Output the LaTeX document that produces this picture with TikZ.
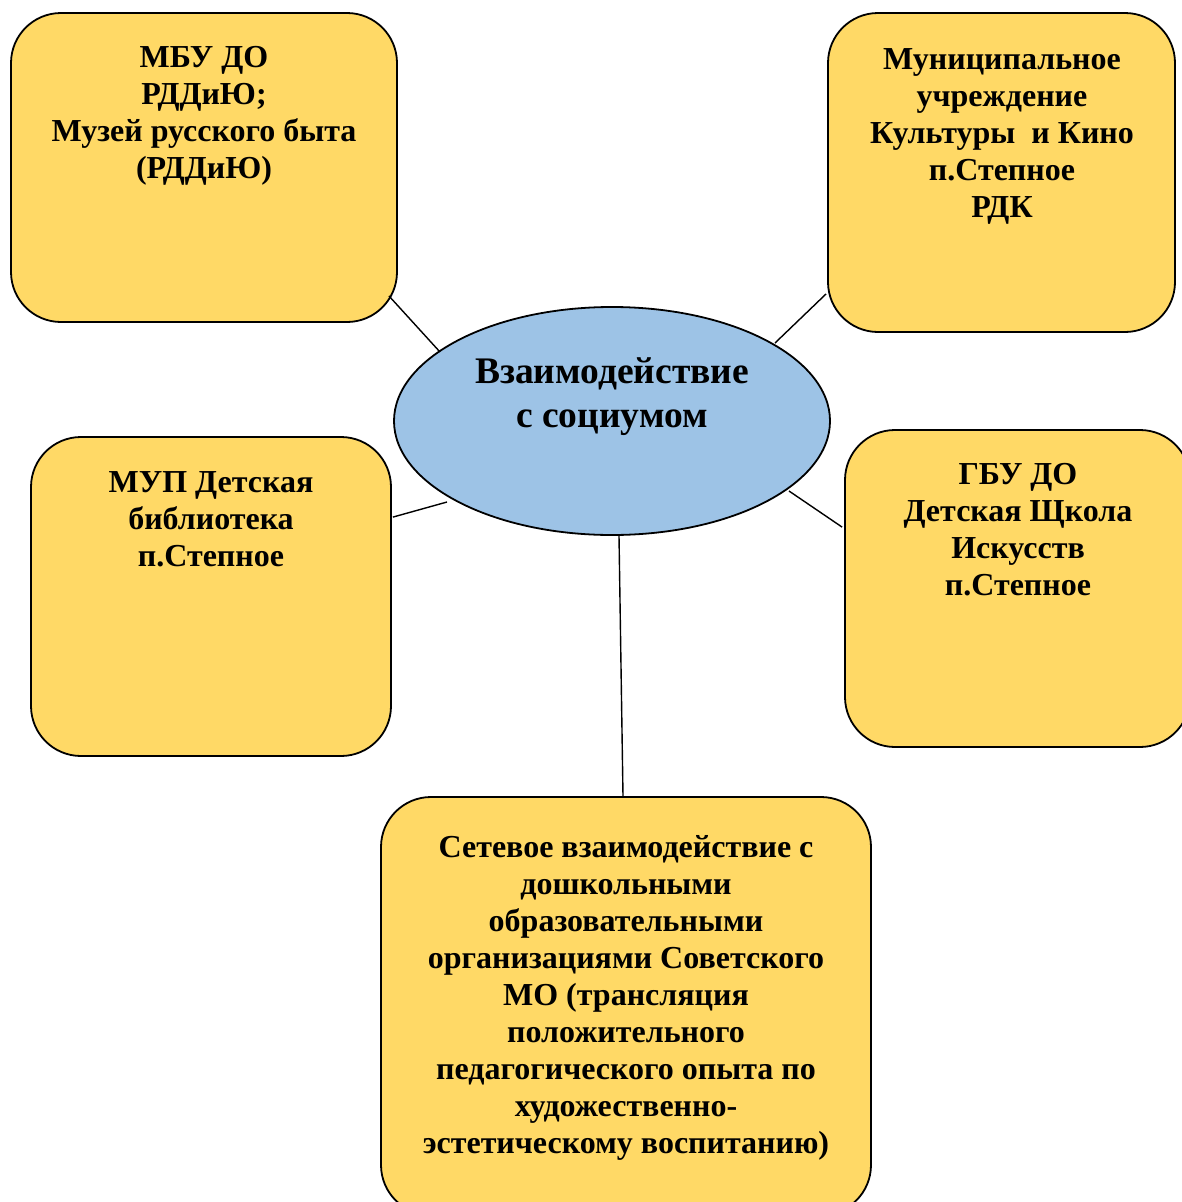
\documentclass[tikz,border=0pt]{standalone}
\usepackage{fontspec}
\setmainfont{Liberation Serif}
\usetikzlibrary{shapes.geometric,calc}
\definecolor{boxfill}{HTML}{FFD966}
\definecolor{ellfill}{HTML}{9DC3E6}
\tikzset{
  rbox/.style={draw=black, line width=1.8pt, fill=boxfill, rounded corners=50pt, inner sep=0pt},
  btext/.style={anchor=north, align=center, inner sep=0pt, font=\fontsize{32}{37}\selectfont\bfseries},
  etext/.style={anchor=north, align=center, inner sep=0pt, font=\fontsize{37.5}{44}\selectfont\bfseries},
  link/.style={draw=black, line width=1.4pt}
}
\begin{document}
\begin{tikzpicture}[x=1pt,y=-1pt]
\useasboundingbox (0,0) rectangle (1182,1202);
\clip (0,0) rectangle (1182,1202);
\fill[white] (0,0) rectangle (1182,1202);
% boxes
\node[rbox, minimum width=386pt, minimum height=309pt] (b1) at (204,167.5) {};
\node[rbox, minimum width=347pt, minimum height=319pt] (b2) at (1001.5,172.5) {};
\node[rbox, minimum width=360pt, minimum height=319pt] (b3) at (211,596.5) {};
\node[rbox, minimum width=345pt, minimum height=317pt] (b4) at (1017.5,588.5) {};
\node[rbox, minimum width=490pt, minimum height=418pt] (b5) at (626,1006) {};
% ellipse
\node[ellipse, draw=black, line width=1.8pt, fill=ellfill, minimum width=436pt, minimum height=228pt, inner sep=0pt] (ell) at (612,421) {};
% texts
\node[btext] (t1) at (204,46) {МБУ ДО\\РДДиЮ;\\Музей русского быта\\(РДДиЮ)};
\node[btext] (t2) at (1002,48) {Муниципальное\\учреждение\\Культуры\ \ и Кино\\п.Степное\\РДК};
\node[btext] (t3) at (211,471) {МУП Детская\\библиотека\\п.Степное};
\node[btext] (t4) at (1018,463) {ГБУ ДО\\Детская Щкола\\Искусств\\п.Степное};
\node[btext] (t5) at (626,835) {Сетевое взаимодействие с\\дошкольными\\образовательными\\организациями Советского\\МО (трансляция\\положительного\\педагогического опыта по\\художественно-\\эстетическому воспитанию)};
\node[etext] (te) at (612,357) {Взаимодействие\\с социумом};
% connectors
\draw[link] ($(b1.south east)+(-9,-27)$) -- ($(ell.center)+(-172,-69)$);
\draw[link] ($(b2.south west)+(-1,-39)$) -- ($(ell.center)+(163,-78)$);
\draw[link] ($(b3.north east)+(1,81)$) -- ($(ell.center)+(-165,81)$);
\draw[link] ($(b4.north west)+(-2,98)$) -- ($(ell.center)+(177,70)$);
\draw[link] ($(ell.south)+(7,0)$) -- ($(b5.north)+(-3,0)$);
\end{tikzpicture}
\end{document}
